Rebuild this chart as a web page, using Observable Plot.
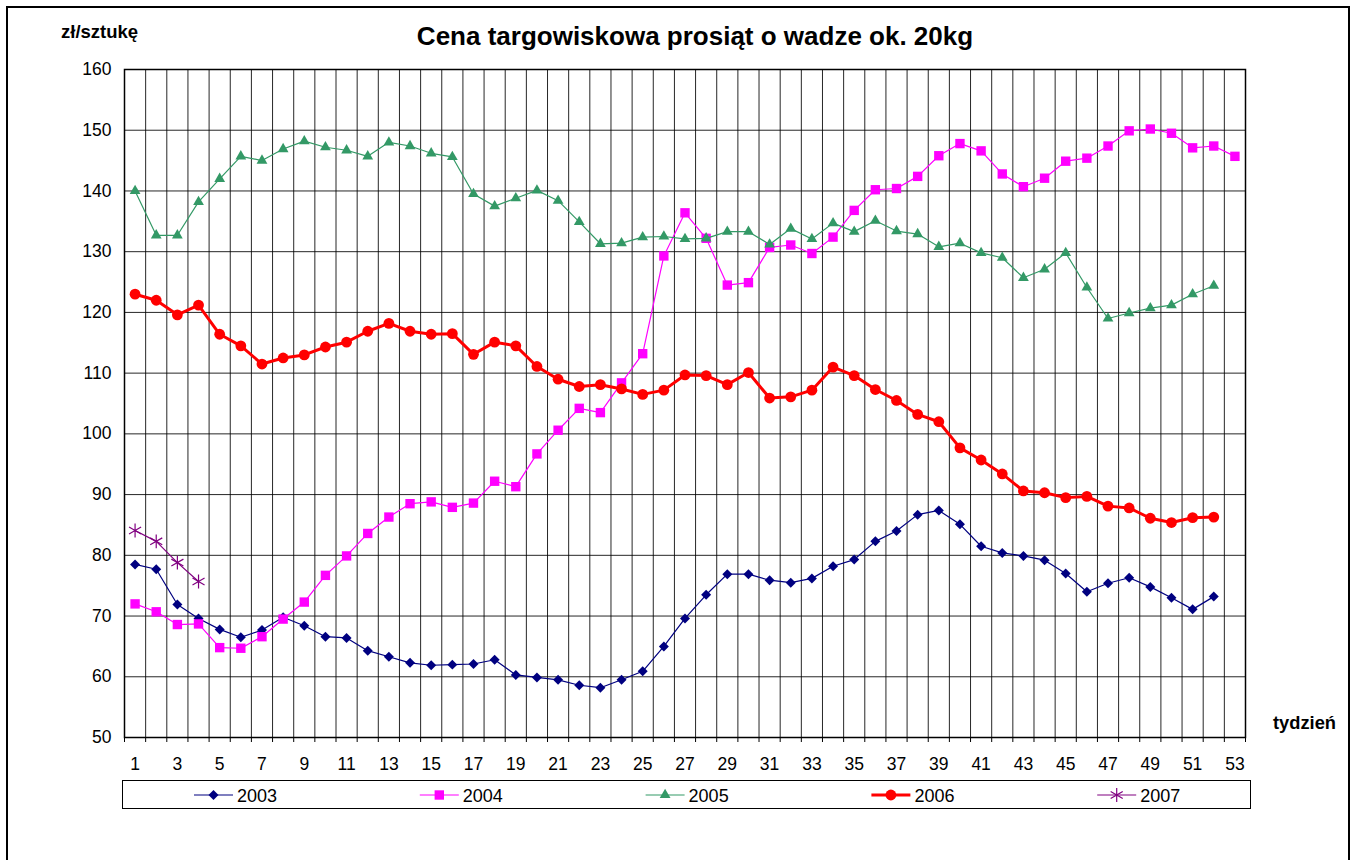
<!DOCTYPE html>
<html>
<head>
<meta charset="utf-8">
<script src="https://cdn.jsdelivr.net/npm/d3@7"></script>
<script src="https://cdn.jsdelivr.net/npm/@observablehq/plot@0.6"></script>
<style>
html,body{margin:0;padding:0;background:#fff;overflow:hidden;}
body{width:1356px;height:860px;position:relative;font-family:"Liberation Sans",Arial,sans-serif;}
#border{position:absolute;left:6px;top:6px;width:1344px;height:920px;border:2px solid #000;box-sizing:border-box;}
#chart{position:absolute;left:0;top:0;}
#overlay{position:absolute;left:0;top:0;pointer-events:none;}
</style>
</head>
<body>
<div id="border"></div>
<div id="chart"></div>
<svg id="overlay" width="1356" height="860"></svg>
<script>
// ---- data ----
const years = ["2003", "2004", "2005", "2006", "2007"];
const yTicks = [50, 60, 70, 80, 90, 100, 110, 120, 130, 140, 150, 160];
const weekLabels = [1, 3, 5, 7, 9, 11, 13, 15, 17, 19, 21, 23, 25, 27, 29, 31, 33, 35, 37, 39, 41, 43, 45, 47, 49, 51, 53];

const v2003 = [78.5, 77.7, 71.9, 69.6, 67.8, 66.5, 67.7, 69.8, 68.4, 66.6, 66.4, 64.3, 63.3, 62.3, 61.9, 62.0,
  62.1, 62.8, 60.3, 59.9, 59.5, 58.6, 58.2, 59.5, 60.9, 65.0, 69.6, 73.5, 76.9, 76.9, 75.9, 75.5, 76.2, 78.2, 79.3, 82.3,
  84.0, 86.7, 87.4, 85.1, 81.5, 80.4, 79.9, 79.2, 77.0, 74.0, 75.4, 76.3, 74.8, 73.0, 71.1, 73.2];
const v2004 = [72.0, 70.7, 68.6, 68.7, 64.8, 64.7, 66.6, 69.5, 72.3, 76.7, 79.9, 83.6, 86.3, 88.5, 88.8, 87.9,
  88.6, 92.2, 91.3, 96.7, 100.6, 104.2, 103.5, 108.4, 113.2, 129.3, 136.4, 132.2, 124.5, 124.9, 130.7, 131.1, 129.7, 132.4, 136.8, 140.2,
  140.4, 142.4, 145.8, 147.8, 146.6, 142.8, 140.7, 142.1, 144.9, 145.4, 147.4, 149.9, 150.2, 149.5, 147.1, 147.4, 145.7];
const v2005 = [140.0, 132.7, 132.7, 138.2, 142.0, 145.7, 145.0, 146.9, 148.2, 147.2, 146.7, 145.7, 148.0, 147.4, 146.2, 145.6,
  139.5, 137.5, 138.8, 140.1, 138.4, 134.9, 131.3, 131.4, 132.4, 132.5, 132.1, 132.2, 133.3, 133.3, 131.2, 133.8, 132.1, 134.7, 133.3, 135.1,
  133.4, 132.9, 130.8, 131.4, 129.8, 129.0, 125.7, 127.1, 129.8, 124.1, 119.0, 119.9, 120.7, 121.2, 123.0, 124.4];
const v2006 = [123.0, 122.0, 119.6, 121.2, 116.4, 114.5, 111.5, 112.5, 113.0, 114.3, 115.1, 116.9, 118.2, 116.9, 116.4, 116.5,
  113.1, 115.1, 114.5, 111.1, 109.0, 107.8, 108.1, 107.4, 106.5, 107.2, 109.7, 109.6, 108.1, 110.1, 105.9, 106.1, 107.2, 111.0, 109.6, 107.3,
  105.5, 103.2, 102.0, 97.7, 95.7, 93.4, 90.6, 90.3, 89.5, 89.7, 88.1, 87.8, 86.1, 85.4, 86.2, 86.3];
const v2007 = [84.1, 82.3, 78.8, 75.7];

const colors = ["#000080", "#ff00ff", "#339966", "#ff0000", "#800080"];
const symbols = ["diamond2", "square", "triangle", "circle", "asterisk"];

// ---- build table ----
const valuesByYear = [v2003, v2004, v2005, v2006, v2007];
const series = years.map((y, i) => ({
  year: y,
  color: colors[i],
  symbol: symbols[i],
  rows: valuesByYear[i].map((v, k) => ({year: y, week: k + 1, value: v}))
}));
const style = {
  "2003": {sw: 1.2, r: 4.5},
  "2004": {sw: 1.2, r: 5.3},
  "2005": {sw: 1.2, r: 4.0},
  "2006": {sw: 3, r: 5.4},
  "2007": {sw: 1.2, r: 6.6}
};
const boundaries = d3.range(0.5, 54, 1);

const marks = [
  Plot.gridY(yTicks, {stroke: "#000", strokeOpacity: 0.85, strokeWidth: 1}),
  Plot.gridX(boundaries, {stroke: "#000", strokeOpacity: 0.85, strokeWidth: 1}),
  Plot.axisY(yTicks, {tickSize: 5, tickPadding: 8, label: null, fontSize: 17.5, stroke: null}),
  Plot.axisX(boundaries, {tickSize: 5, tickFormat: () => "", label: null}),
  Plot.axisX(weekLabels, {tickSize: 0, tickPadding: 20, label: null, fontSize: 17.5}),
  Plot.frame({stroke: "#000", strokeWidth: 1.5})
];
for (const s of series) {
  const st = style[s.year];
  marks.push(Plot.line(s.rows, {x: "week", y: "value", stroke: s.color, strokeWidth: st.sw}));
  if (s.symbol === "asterisk") {
    marks.push(Plot.dot(s.rows, {x: "week", y: "value", symbol: s.symbol, r: st.r, stroke: s.color, strokeWidth: 1.2, fill: "none"}));
  } else {
    marks.push(Plot.dot(s.rows, {x: "week", y: "value", symbol: s.symbol, r: st.r, fill: s.color, stroke: "none"}));
  }
}

const chart = Plot.plot({
  width: 1356,
  height: 860,
  marginLeft: 124,
  marginRight: 111,
  marginTop: 69,
  marginBottom: 123,
  x: {domain: [0.5, 53.5]},
  y: {domain: [50, 160]},
  style: {fontFamily: '"Liberation Sans", Arial, sans-serif', fontSize: "17.5px", color: "#000", background: "transparent"},
  marks
});
document.getElementById("chart").appendChild(chart);

// ---- texts & legend ----
const ov = d3.select("#overlay");
const ff = '"Liberation Sans", Arial, sans-serif';
ov.append("text").attr("x", 695).attr("y", 45).attr("text-anchor", "middle")
  .attr("font-family", ff).attr("font-weight", "bold").attr("font-size", 26)
  .text("Cena targowiskowa prosiąt o wadze ok. 20kg");
ov.append("text").attr("x", 61).attr("y", 38)
  .attr("font-family", ff).attr("font-weight", "bold").attr("font-size", 18.5)
  .text("zł/sztukę");
ov.append("text").attr("x", 1273).attr("y", 729)
  .attr("font-family", ff).attr("font-weight", "bold").attr("font-size", 18.3)
  .text("tydzień");

const lg = ov.append("g").attr("transform", "translate(122,780)");
lg.append("rect").attr("x", 0.5).attr("y", 0.5).attr("width", 1128).attr("height", 28)
  .attr("fill", "#fff").attr("stroke", "#000").attr("stroke-width", 1);
const symMap = {diamond2: d3.symbolDiamond2, square: d3.symbolSquare, triangle: d3.symbolTriangle, circle: d3.symbolCircle, asterisk: d3.symbolAsterisk};
series.forEach((s, i) => {
  const x0 = 72 + i * 225.8;
  const st = style[s.year];
  const g = lg.append("g").attr("transform", `translate(${x0},15)`);
  g.append("line").attr("x1", 0).attr("x2", 39).attr("y1", 0).attr("y2", 0)
    .attr("stroke", s.color).attr("stroke-width", st.sw);
  const p = g.append("path").attr("transform", "translate(19.5,0)")
    .attr("d", d3.symbol(symMap[s.symbol], Math.PI * st.r * st.r)());
  if (s.symbol === "asterisk") p.attr("fill", "none").attr("stroke", s.color).attr("stroke-width", 1.2);
  else p.attr("fill", s.color);
  g.append("text").attr("x", 43).attr("y", 7)
    .attr("font-family", ff).attr("font-size", 18).text(s.year);
});
</script>
</body>
</html>
